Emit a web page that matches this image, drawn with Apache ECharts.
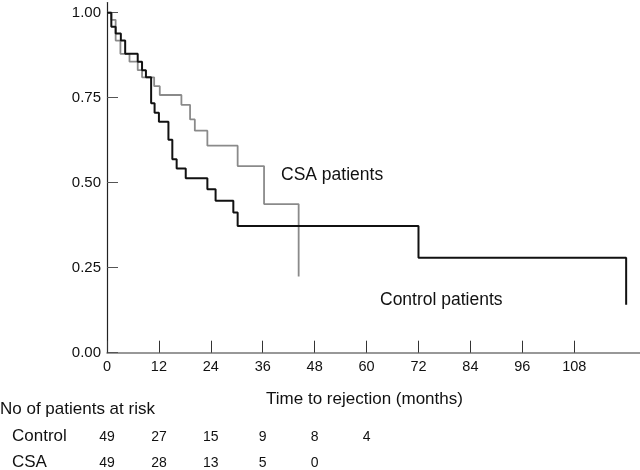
<!DOCTYPE html>
<html><head><meta charset="utf-8">
<script src="https://cdn.jsdelivr.net/npm/echarts@6/dist/echarts.min.js"></script>
<style>html,body{margin:0;padding:0;background:#fff}#c{width:640px;height:470px}</style>
</head><body><div id="c"></div>
<script>
// Kaplan-Meier step data (months, survival proportion)
const controlTimes = [0, 1, 2, 3.2, 4.2, 7.1, 8.1, 9.0, 10.2, 11.0, 12.0, 14.2, 15.1, 16.1, 18.2, 23.2, 25.1, 29.2, 30.2, 72, 120];
const controlSurv  = [1.0, 0.959, 0.939, 0.918, 0.879, 0.856, 0.831, 0.810, 0.734, 0.706, 0.679, 0.626, 0.569, 0.542, 0.513, 0.481, 0.447, 0.412, 0.373, 0.279, 0.141];
const csaTimes = [0, 1, 2, 3.1, 5.2, 7.1, 8.1, 10.9, 12.2, 17.2, 19.2, 20.3, 23.2, 30.2, 36.3, 44.3];
const csaSurv  = [1.0, 0.979, 0.918, 0.879, 0.856, 0.831, 0.810, 0.784, 0.758, 0.729, 0.686, 0.653, 0.609, 0.549, 0.437, 0.224];
const xTicks = [0, 12, 24, 36, 48, 60, 72, 84, 96, 108];
const yTicks = [0, 0.25, 0.5, 0.75, 1.0];
const riskTimes = [0, 12, 24, 36, 48, 60];
const riskControl = [49, 27, 15, 9, 8, 4];
const riskCSA = [49, 28, 13, 5, 0];

const FONT = 'Liberation Sans, Arial, Helvetica, sans-serif';
const chart = echarts.init(document.getElementById('c'), null, {renderer: 'canvas'});
const pairs = (t, v) => t.map((x, i) => [x, v[i]]);

chart.setOption({
  animation: false,
  backgroundColor: '#ffffff',
  grid: {left: 107, right: 0, top: 2.5, bottom: 117.3, containLabel: false, outerBoundsMode: 'none'},
  xAxis: {
    type: 'value', min: 0, max: 123.2,
    name: 'Time to rejection (months)', nameLocation: 'middle', nameGap: 38,
    nameTextStyle: {fontFamily: FONT, fontSize: 17, color: '#111', padding: [0, 18, 0, 0]},
    axisLine: {show: true, lineStyle: {color: '#777', width: 1.5}},
    axisTick: {show: true, inside: true, length: 12, customValues: xTicks, lineStyle: {color: '#333', width: 1}},
    axisLabel: {customValues: xTicks, fontFamily: FONT, fontSize: 14.5, color: '#111', margin: 7},
    splitLine: {show: false}
  },
  yAxis: {
    type: 'value', min: 0, max: 1.03,
    axisLine: {show: true, lineStyle: {color: '#222', width: 1.2}},
    axisTick: {show: true, inside: true, length: 11, customValues: yTicks, lineStyle: {color: '#555', width: 1}},
    axisLabel: {customValues: yTicks, fontFamily: FONT, fontSize: 15, color: '#111', margin: 6,
      formatter: v => v.toFixed(2)},
    splitLine: {show: false}
  },
  series: [
    {name: 'CSA', type: 'line', step: 'end', symbol: 'none', data: pairs(csaTimes, csaSurv),
     lineStyle: {color: '#8a8a8a', width: 1.8}, z: 2},
    {name: 'Control', type: 'line', step: 'end', symbol: 'none', data: pairs(controlTimes, controlSurv),
     lineStyle: {color: '#111111', width: 2}, z: 3}
  ]
});

const g = [];
const txt = (x, y, s, size, align) => g.push({type: 'text', x: x, y: y,
  style: {text: s, fontFamily: FONT, fontSize: size, fill: '#111', align: align || 'left', verticalAlign: 'middle'}});
txt(281, 175, 'CSA patients', 17.5);
txt(380, 300, 'Control patients', 17.5);
txt(0, 409, 'No of patients at risk', 17);
txt(12, 436, 'Control', 17);
txt(12, 462, 'CSA', 17);
riskTimes.forEach((t, i) => {
  const px = chart.convertToPixel({xAxisIndex: 0}, t);
  if (i < riskControl.length) txt(px, 437, String(riskControl[i]), 14, 'center');
  if (i < riskCSA.length) txt(px, 463, String(riskCSA[i]), 14, 'center');
});
chart.setOption({graphic: g});
</script>
</body></html>
